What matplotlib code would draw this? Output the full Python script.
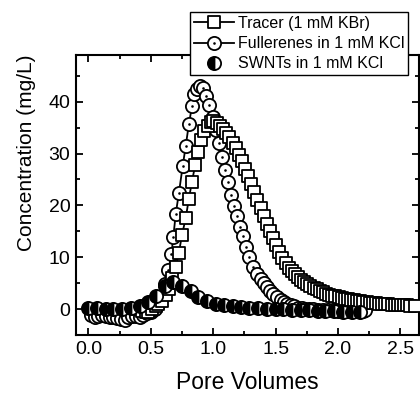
import matplotlib
matplotlib.use("Agg")
import matplotlib.pyplot as plt
from matplotlib.path import Path
from matplotlib.ticker import MultipleLocator

plt.rcParams['font.family'] = ['Liberation Sans', 'DejaVu Sans']

# Tracer (1 mM KBr)
tracer_x = [0.40, 0.43, 0.46, 0.48, 0.51, 0.54, 0.56, 0.59, 0.62, 0.645,
            0.67, 0.70, 0.725, 0.75, 0.78, 0.805, 0.83, 0.855, 0.88, 0.905,
            0.93, 0.955, 0.98, 1.00, 1.03, 1.055, 1.08, 1.105, 1.13, 1.155,
            1.18, 1.205, 1.23, 1.255, 1.28, 1.305, 1.33, 1.355, 1.38, 1.405,
            1.43, 1.455, 1.48, 1.505, 1.53, 1.555, 1.58, 1.605, 1.63, 1.655,
            1.68, 1.705, 1.73, 1.755, 1.78, 1.805, 1.83, 1.855, 1.88, 1.905,
            1.93, 1.955, 1.98, 2.005, 2.03, 2.055, 2.08, 2.105, 2.13, 2.155,
            2.18, 2.205, 2.23, 2.255, 2.28, 2.305, 2.33, 2.355, 2.38, 2.405,
            2.43, 2.455, 2.48, 2.505, 2.53, 2.555, 2.58, 2.62]
tracer_y = [0.0, -0.3, -0.5, -0.5, 0.0, 0.5, 1.0, 1.5, 2.7, 3.9,
            6.0, 8.1, 10.9, 14.3, 17.6, 21.3, 24.6, 27.7, 30.2, 32.6,
            34.3, 35.4, 36.0, 36.2, 35.9, 35.4, 34.7, 33.9, 33.1, 32.1,
            31.0, 29.8, 28.5, 27.1, 25.6, 24.1, 22.6, 21.0, 19.5, 18.0,
            16.5, 15.1, 13.7, 12.3, 11.0, 9.9, 8.9, 8.0, 7.3, 6.7,
            6.1, 5.6, 5.2, 4.8, 4.4, 4.1, 3.8, 3.5, 3.3, 3.0,
            2.8, 2.6, 2.5, 2.3, 2.2, 2.0, 1.9, 1.8, 1.7, 1.6,
            1.5, 1.4, 1.3, 1.2, 1.2, 1.1, 1.0, 1.0, 0.9, 0.9,
            0.8, 0.8, 0.8, 0.7, 0.7, 0.7, 0.6, 0.6]

# Fullerenes in 1 mM KCl
fuller_x = [0.02, 0.05, 0.08, 0.11, 0.14, 0.17, 0.20, 0.23, 0.26, 0.29,
            0.32, 0.35, 0.38, 0.41, 0.44, 0.47, 0.50, 0.53, 0.56, 0.59,
            0.615, 0.64, 0.665, 0.68, 0.70, 0.725, 0.755, 0.78, 0.805, 0.83,
            0.85, 0.87, 0.895, 0.92, 0.945, 0.97, 0.995, 1.02, 1.045, 1.07,
            1.095, 1.12, 1.14, 1.165, 1.19, 1.215, 1.24, 1.26, 1.29, 1.32,
            1.35, 1.38, 1.405, 1.43, 1.455, 1.48, 1.51, 1.54, 1.565, 1.59,
            1.62, 1.65, 1.68, 1.71, 1.74, 1.77, 1.80, 1.84, 1.88, 1.92,
            1.96, 2.00, 2.04, 2.08, 2.12, 2.16, 2.20, 2.22]
fuller_y = [-1.2, -1.5, -1.3, -1.2, -1.4, -1.5, -1.6, -1.8, -2.0, -2.1,
            -1.6, -1.3, -1.4, -1.6, -1.2, -0.8, -0.5, 0.0, 1.0, 2.5,
            4.8, 7.5, 10.6, 13.9, 18.4, 22.4, 27.5, 31.5, 35.7, 39.1,
            41.4, 42.4, 43.0, 42.6, 41.1, 39.3, 37.0, 34.6, 32.0, 29.3,
            26.9, 24.6, 22.0, 19.8, 17.9, 15.9, 14.0, 12.0, 10.1, 8.2,
            6.8, 5.8, 5.0, 4.2, 3.5, 2.9, 2.3, 1.8, 1.4, 1.0,
            0.7, 0.5, 0.3, 0.2, 0.1, 0.0, 0.0, -0.1, -0.1, -0.2,
            -0.2, -0.3, -0.3, -0.3, -0.3, -0.3, -0.3, -0.2]

# SWNTs in 1 mM KCl
swnt_x = [0.00, 0.07, 0.14, 0.20, 0.27, 0.34, 0.41, 0.48, 0.54, 0.61,
          0.68, 0.75, 0.82, 0.88, 0.95, 1.02, 1.09, 1.16, 1.22, 1.29,
          1.36, 1.43, 1.50, 1.56, 1.63, 1.70, 1.77, 1.84, 1.90, 1.97,
          2.04, 2.11, 2.18]
swnt_y = [0.3, 0.3, 0.1, 0.0, 0.0, 0.2, 0.6, 1.4, 2.6, 4.5,
          5.3, 4.4, 3.4, 2.3, 1.5, 1.0, 0.7, 0.5, 0.4, 0.3,
          0.2, 0.1, 0.0, 0.0, -0.1, -0.2, -0.2, -0.3, -0.4, -0.4,
          -0.5, -0.5, -0.6]


def dotted_marker(outer):
    # outer shape plus a tiny inner square whose outline reads as a centre dot
    s = 0.05
    dot = Path([(-s, -s), (s, -s), (s, s), (-s, s), (-s, -s)],
               [Path.MOVETO, Path.LINETO, Path.LINETO, Path.LINETO, Path.CLOSEPOLY])
    return Path.make_compound_path(outer, dot)


square = Path([(-1, -1), (1, -1), (1, 1), (-1, 1), (-1, -1)],
              [Path.MOVETO, Path.LINETO, Path.LINETO, Path.LINETO, Path.CLOSEPOLY])
sq_marker = dotted_marker(square)
ci_marker = dotted_marker(Path.circle((0, 0), 1.0))

fig = plt.figure(figsize=(4.2, 3.95), dpi=100)
ax = fig.add_axes([76 / 420, 60 / 395, 343 / 420, 280 / 395])

ax.plot(fuller_x, fuller_y, color='black', lw=1.3, marker=ci_marker, ms=9.5,
        mfc='white', mec='black', mew=1.3, zorder=2,
        label='Fullerenes in 1 mM KCl')
ax.plot(tracer_x, tracer_y, color='black', lw=1.3, marker=sq_marker, ms=8.3,
        mfc='white', mec='black', mew=1.3, zorder=3,
        label='Tracer (1 mM KBr)')

# half-filled markers drawn one by one so each covers the previous one
swnt_handle = None
for i, (xv, yv) in enumerate(zip(swnt_x, swnt_y)):
    h, = ax.plot([xv], [yv], ls='none', marker='o', ms=9.5, fillstyle='left',
                 mfc='black', mfcalt='white', mec='black', mew=1.3,
                 zorder=4 + i * 0.001)
    if swnt_handle is None:
        swnt_handle = h

ax.set_xlim(-0.1, 2.65)
ax.set_ylim(-5, 49)
ax.xaxis.set_major_locator(MultipleLocator(0.5))
ax.xaxis.set_minor_locator(MultipleLocator(0.25))
ax.yaxis.set_major_locator(MultipleLocator(10))
ax.yaxis.set_minor_locator(MultipleLocator(5))
ax.xaxis.set_major_formatter(plt.FuncFormatter(lambda v, p: f"{v:.1f}"))
ax.tick_params(which='both', direction='in', top=True, right=True,
               labelsize=14, width=1.3)
ax.tick_params(which='major', length=5, pad=4)
ax.tick_params(which='minor', length=3)
for sp in ax.spines.values():
    sp.set_linewidth(1.5)

ax.set_xlabel('Pore Volumes', fontsize=16.5, va='baseline')
ax.xaxis.set_label_coords(0.5, (335 - 389) / 280)
ax.set_ylabel('Concentration (mg/L)', fontsize=15, va='center')
ax.yaxis.set_label_coords((27 - 76) / 343, (335 - 153) / 280)

handles, labels = ax.get_legend_handles_labels()
leg = ax.legend([handles[1], handles[0], swnt_handle],
                ['Tracer (1 mM KBr)', 'Fullerenes in 1 mM KCl', 'SWNTs in 1 mM KCl'],
                loc='upper left', bbox_to_anchor=(190 / 420, 1 - 12 / 395),
                bbox_transform=fig.transFigure, fontsize=11.5, frameon=True,
                fancybox=False, edgecolor='black', framealpha=1,
                borderpad=0.25, labelspacing=0.32, handlelength=2.5,
                handletextpad=0.25, borderaxespad=0)
leg.get_frame().set_linewidth(1.0)

fig.savefig('out.png', dpi=100)
